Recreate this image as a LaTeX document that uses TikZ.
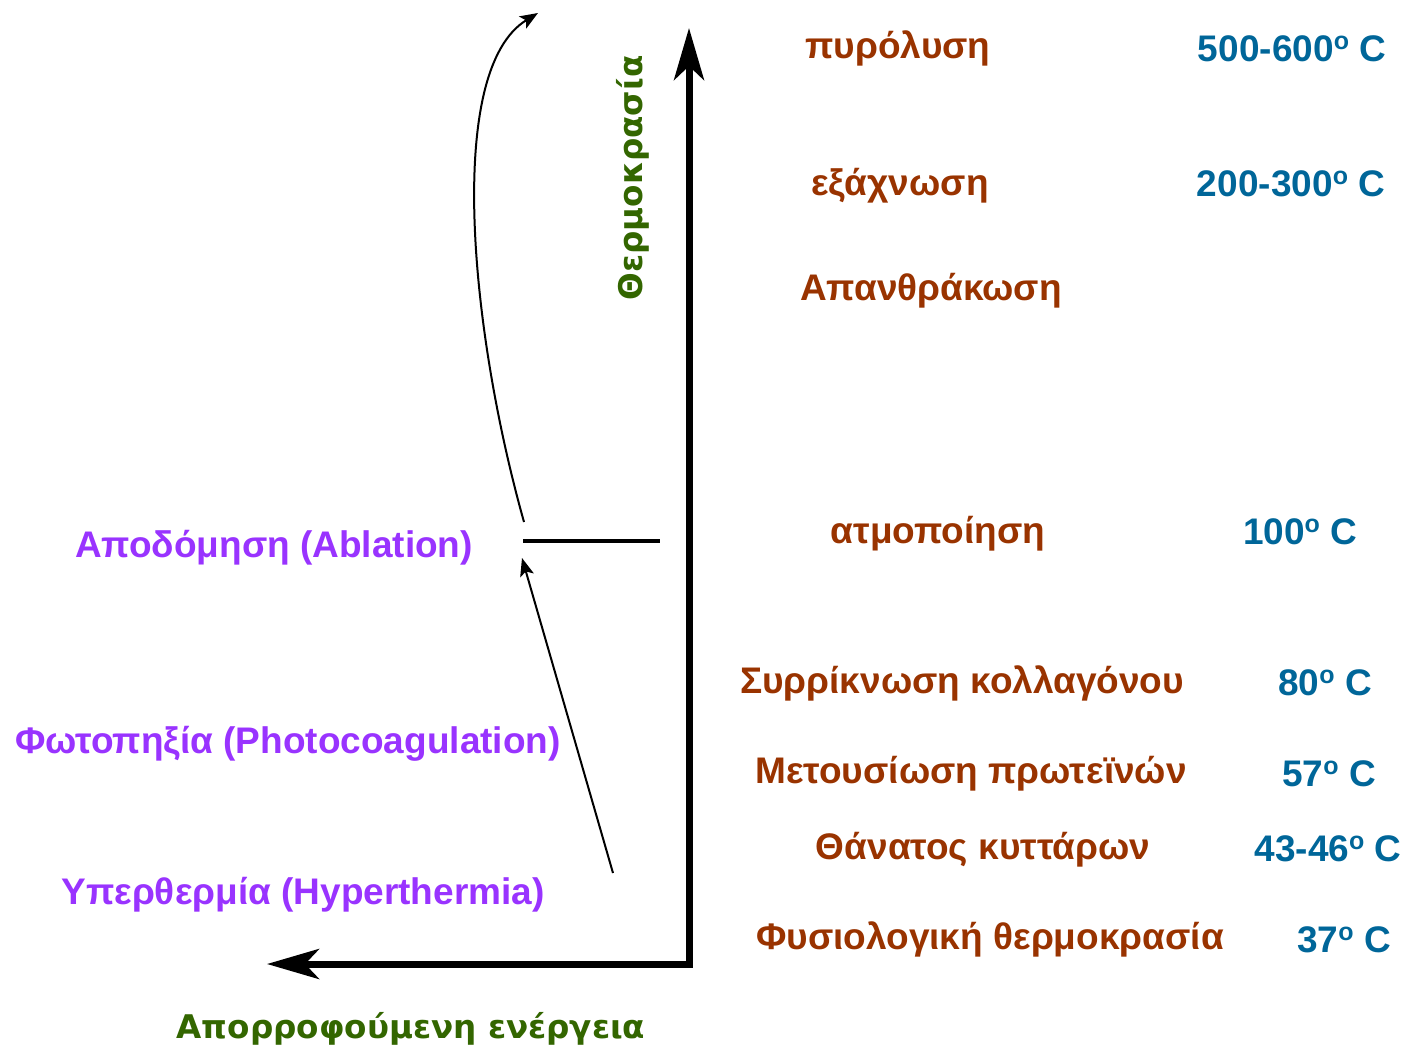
\documentclass[tikz,border=0pt]{standalone}
\usepackage{fontspec}
\setmainfont{Liberation Sans}
\newfontfamily\greenfont{DejaVu Sans}
\usetikzlibrary{arrows.meta}
\definecolor{brownc}{HTML}{993300}
\definecolor{bluec}{HTML}{006699}
\definecolor{purplec}{HTML}{9933FF}
\definecolor{greenc}{HTML}{336600}
\tikzset{
  lbl/.style={font=\fontsize{18.5}{22}\selectfont\bfseries, inner sep=0pt, yshift=-1.25pt},
  proc/.style={lbl, text=brownc},
  temp/.style={lbl, text=bluec},
  mode/.style={lbl, text=purplec},
  axislbl/.style={font=\greenfont\fontsize{16.3}{19}\selectfont\bfseries, text=greenc, inner sep=0pt},
  thick axis/.style={line width=3.5pt, -{Stealth[length=26pt,width=15pt,inset=7pt]}},
  thin arrow/.style={line width=1pt, -{Stealth[length=9pt,width=7pt,inset=2pt]}}
}
\newcommand{\dg}{\raisebox{0.62ex}{\fontsize{12.5}{12}\selectfont o}}
\begin{document}
\begin{tikzpicture}[x=0.5pt,y=-0.5pt]
\useasboundingbox (0,0) rectangle (1409,1050);
% axes
\coordinate (corner) at (689,964);
\coordinate (ytip) at (689,28);
\coordinate (xtip) at (267,964);
\draw[thick axis] ([yshift=-1.75pt]corner) -- (ytip);
\draw[thick axis] ([xshift=1.75pt]corner) -- (xtip);
\node[axislbl, rotate=90] (temp) at (633,178) {Θερμοκρασία};
\node[axislbl] (energy) at (411,1029) {Απορροφούμενη ενέργεια};
% ablation threshold
\coordinate (thA) at (523,541);
\coordinate (thB) at (660,541);
\draw[line width=2pt] (thA) -- (thB);
\coordinate (hypStart) at (613,873);
\coordinate (ablEnd) at (522,558);
\draw[thin arrow] (hypStart) -- (ablEnd);
\coordinate (curveStart) at (524,522);
\coordinate (curveEnd) at (538,13);
\draw[thin arrow] (curveStart) .. controls (470,330) and (445,70) .. (curveEnd);
% processes
\node[proc] (p1) at (898,46) {πυρόλυση};
\node[temp] (t1) at (1292,46) {500-600\dg{} C};
\node[proc] (p2) at (900,183) {εξάχνωση};
\node[temp] (t2) at (1291,181) {200-300\dg{} C};
\node[proc] (p3) at (931,288) {Απανθράκωση};
\node[proc] (p4) at (938,531) {ατμοποίηση};
\node[temp] (t4) at (1300,529) {100\dg{} C};
\node[proc] (p5) at (962,681) {Συρρίκνωση κολλαγόνου};
\node[temp] (t5) at (1325,680) {80\dg{} C};
\node[proc] (p6) at (971,771) {Μετουσίωση πρωτεϊνών};
\node[temp] (t6) at (1329,771) {57\dg{} C};
\node[proc] (p7) at (983,847) {Θάνατος κυττάρων};
\node[temp] (t7) at (1328,846) {43-46\dg{} C};
\node[proc] (p8) at (990,937) {Φυσιολογική θερμοκρασία};
\node[temp] (t8) at (1344,937) {37\dg{} C};
% modes
\node[mode] (m1) at (274,545) {Αποδόμηση (Ablation)};
\node[mode] (m2) at (288,741) {Φωτοπηξία (Photocoagulation)};
\node[mode] (m3) at (303,892) {Υπερθερμία (Hyperthermia)};
\end{tikzpicture}
\end{document}
